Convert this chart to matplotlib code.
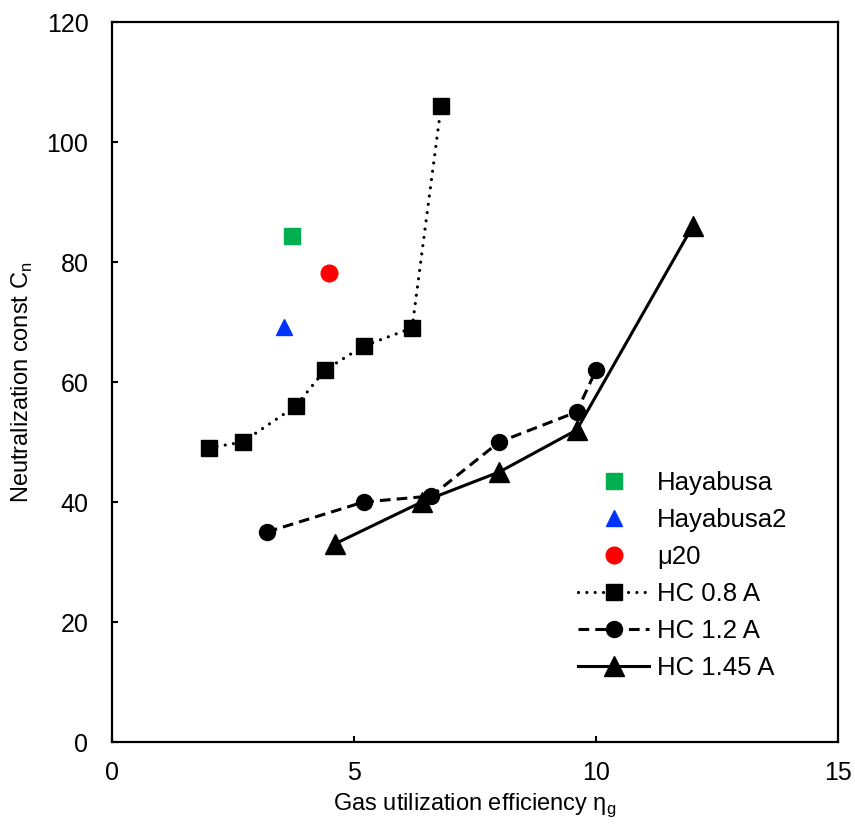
import matplotlib
matplotlib.use("Agg")
import matplotlib.pyplot as plt

plt.rcParams['font.family'] = ['Liberation Sans', 'DejaVu Sans']
plt.rcParams['mathtext.fontset'] = 'custom'
plt.rcParams['mathtext.rm'] = 'Liberation Sans'

# single points
hayabusa_x = [3.72]
hayabusa_y = [84.3]
hayabusa2_x = [3.55]
hayabusa2_y = [69.2]
mu20_x = [4.48]
mu20_y = [78.1]

# hollow cathode series
hc08_x = [2.0, 2.7, 3.8, 4.4, 5.2, 6.2, 6.8]
hc08_y = [49, 50, 56, 62, 66, 69, 106]
hc12_x = [3.2, 5.2, 6.6, 8.0, 9.6, 10.0]
hc12_y = [35, 40, 41, 50, 55, 62]
hc145_x = [4.6, 6.4, 8.0, 9.6, 12.0]
hc145_y = [33, 40, 45, 52, 86]

fig = plt.figure(figsize=(8.55, 8.3), dpi=100)
ax = fig.add_axes([112/855, 1 - 742/830, 726/855, 720/830])

ax.plot(hayabusa_x, hayabusa_y, 's', color='#00b050', markersize=11.5, label='Hayabusa', linestyle='none')
ax.plot(hayabusa2_x, hayabusa2_y, '^', color='#0033ff', markersize=12, label='Hayabusa2', linestyle='none')
ax.plot(mu20_x, mu20_y, 'o', color='#ff0000', markersize=12, label='μ20', linestyle='none')
ax.plot(hc08_x, hc08_y, color='black', linestyle=(0, (0.01, 2.6)), linewidth=2.3,
        marker='s', markersize=11.5, label='HC 0.8 A', dash_capstyle='round')
ax.plot(hc12_x, hc12_y, color='black', linestyle=(0, (3.5, 2)), linewidth=2.2,
        marker='o', markersize=11.5, label='HC 1.2 A')
ax.plot(hc145_x, hc145_y, color='black', linestyle='-', linewidth=2.2,
        marker='^', markersize=15, label='HC 1.45 A')

ax.set_xlim(0, 15)
ax.set_ylim(0, 120)
ax.set_xticks([0, 5, 10, 15])
ax.set_yticks(range(0, 121, 20))
ax.tick_params(direction='in', length=4, width=1.5, labelsize=18)
ax.tick_params(axis='y', pad=17)
ax.tick_params(axis='x', pad=14)
for s in ax.spines.values():
    s.set_linewidth(1.6)

ax.set_xlabel('Gas utilization efficiency η$_\\mathregular{g}$', fontsize=17, labelpad=4)
ax.set_ylabel('Neutralization const C$_\\mathregular{n}$', fontsize=17, labelpad=8)

ax.legend(loc='upper left', bbox_to_anchor=(0.628, 0.39), borderaxespad=0, frameon=False,
          fontsize=18.5, handlelength=2.76, labelspacing=0.5, handletextpad=0.31,
          markerfirst=True)

fig.savefig('out.png', dpi=100)
